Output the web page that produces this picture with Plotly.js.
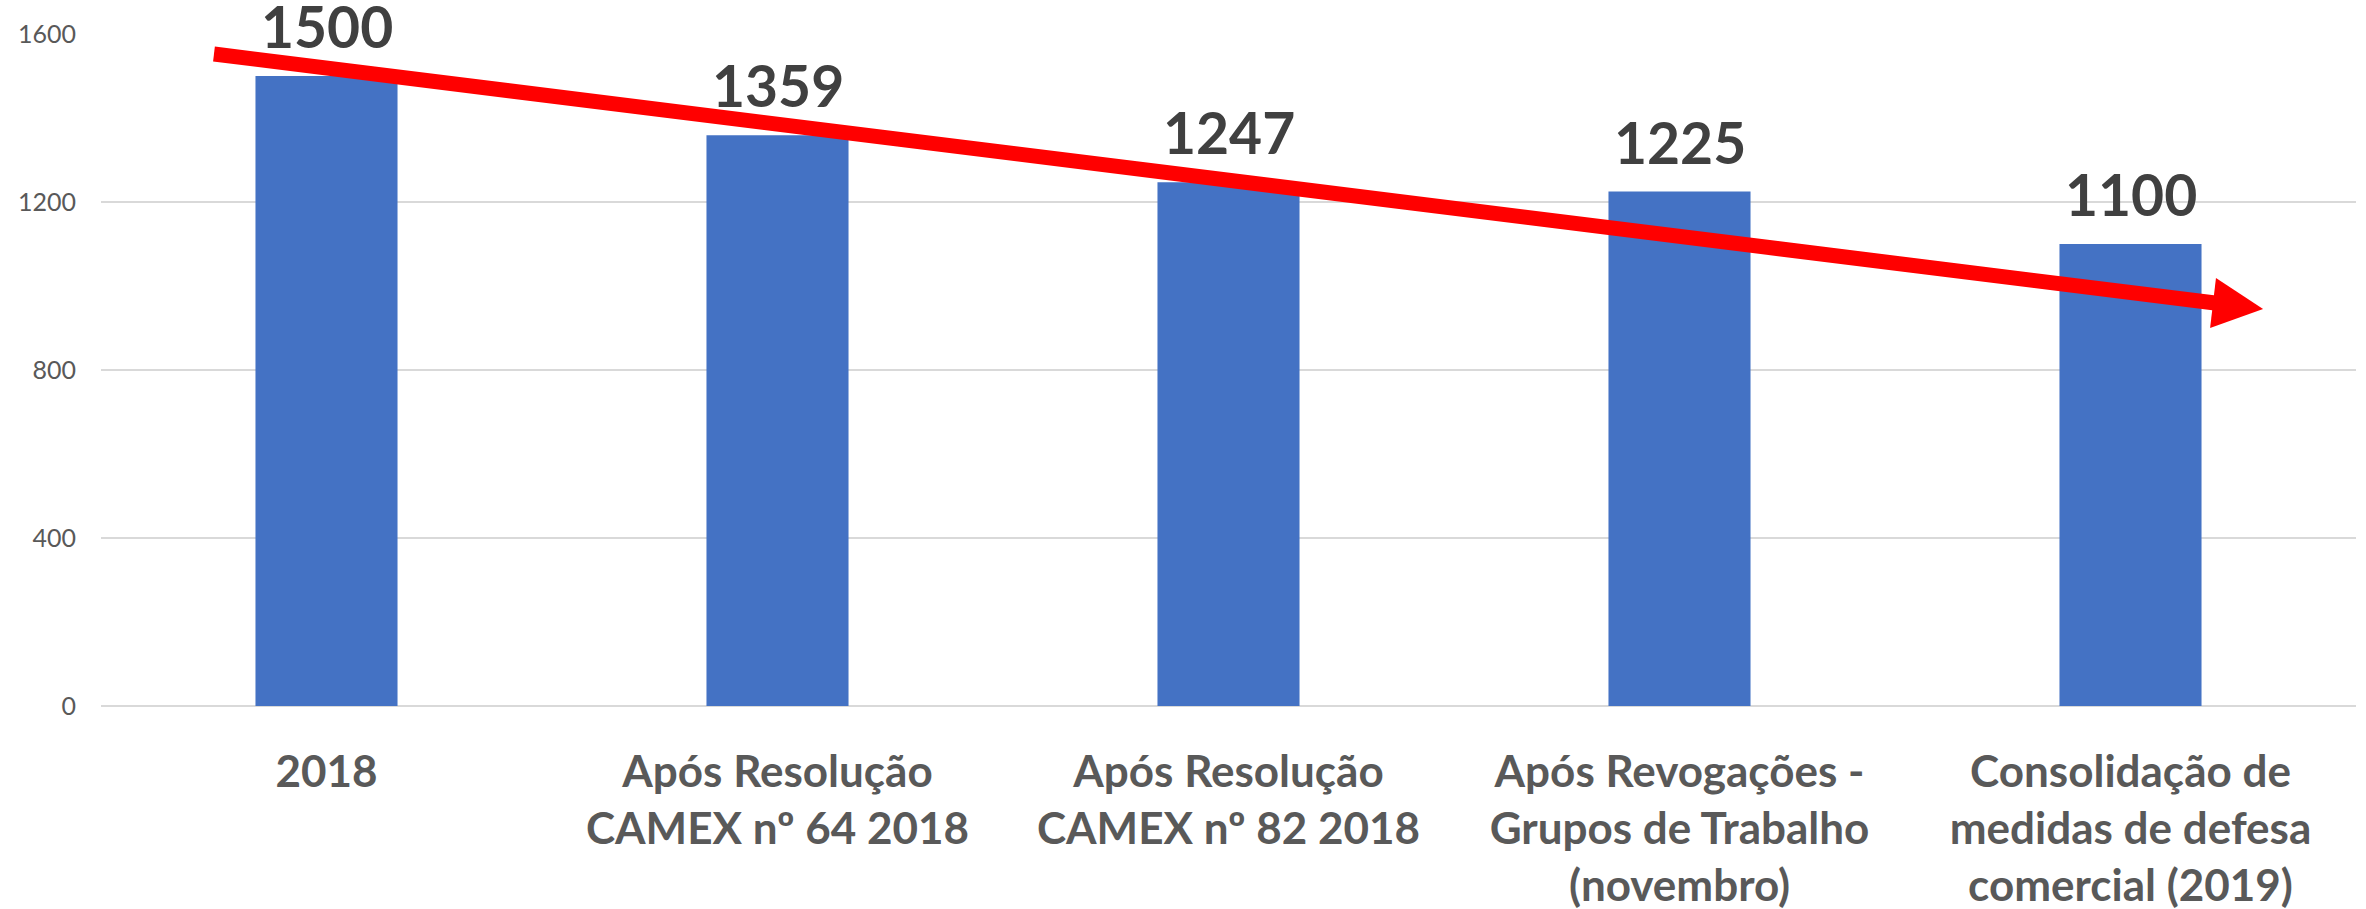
<!DOCTYPE html>
<html>
<head>
<meta charset="utf-8">
<script src="https://cdn.plot.ly/plotly-3.0.1.min.js"></script>
<style>html,body{margin:0;padding:0;background:#fff;}#chart{width:2366px;height:909px;}</style>
</head>
<body>
<div id="chart"></div>
<script>
const categories = [
  "2018",
  "Após Resolução<br>CAMEX nº 64 2018",
  "Após Resolução<br>CAMEX nº 82 2018",
  "Após Revogações -<br>Grupos de Trabalho<br>(novembro)",
  "Consolidação de<br>medidas de defesa<br>comercial (2019)"
];
const values = [1500, 1359, 1247, 1225, 1100];
const yTicks = [0, 400, 800, 1200, 1600];

const positions = categories.map((c, i) => i);

const trace = {
  type: 'bar',
  x: positions,
  y: values,
  marker: {color: '#4472C4'},
  hoverinfo: 'none'
};

const annotations = positions.map((p, i) => ({
  x: p, y: values[i], xref: 'x', yref: 'y',
  text: '<b>' + values[i] + '</b>',
  showarrow: false,
  yanchor: 'bottom',
  yshift: 14,
  font: {family: 'Lato', size: 57, color: '#404040'}
}));

const layout = {
  width: 2366, height: 909,
  margin: {l: 101, r: 10, t: 34, b: 203},
  paper_bgcolor: '#ffffff', plot_bgcolor: '#ffffff',
  showlegend: false,
  bargap: 0.685,
  font: {family: 'Lato'},
  xaxis: {
    type: 'linear',
    range: [-0.5, categories.length - 0.5],
    tickmode: 'array', tickvals: positions,
    ticktext: categories.map(c => '<b>' + c.split('<br>').join('</b><br><b>') + '</b>'),
    tickangle: 0,
    tickfont: {family: 'Lato', size: 44, color: '#595959'},
    ticks: '', showline: false, showgrid: false, zeroline: false,
    ticklabelstandoff: 36,
    fixedrange: true
  },
  yaxis: {
    range: [0, 1600],
    tickmode: 'array', tickvals: yTicks, ticktext: yTicks.map(String),
    tickfont: {family: 'Lato', size: 25, color: '#595959'},
    ticks: '', showline: false,
    gridcolor: '#d9d9d9', gridwidth: 2,
    zeroline: true, zerolinecolor: '#d9d9d9', zerolinewidth: 2,
    ticklabelstandoff: 24,
    fixedrange: true
  },
  annotations: annotations,
  shapes: [
    {type: 'line', xref: 'paper', yref: 'paper',
     x0: 0.0501, y0: 0.9702, x1: 0.9375, y1: 0.5997,
     line: {color: '#FF0000', width: 15}, layer: 'above'},
    {type: 'path', xref: 'paper', yref: 'paper',
     path: 'M0.9379,0.6369 L0.9588,0.5908 L0.9353,0.5625 Z',
     fillcolor: '#FF0000', line: {color: '#FF0000', width: 0}, layer: 'above'}
  ]
};

Plotly.newPlot('chart', [trace], layout, {displayModeBar: false, staticPlot: true});
</script>
</body>
</html>
